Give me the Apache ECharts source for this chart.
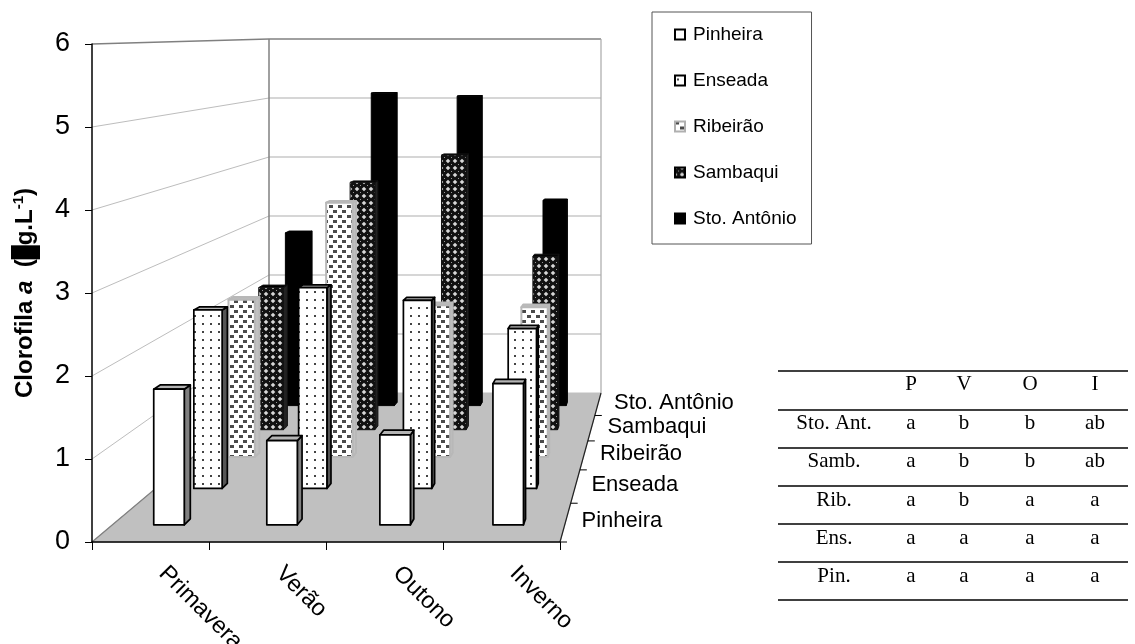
<!DOCTYPE html>
<html><head><meta charset="utf-8">
<style>html,body{margin:0;padding:0;background:#fff}#c{width:1135px;height:644px}</style>
<script src="https://cdn.jsdelivr.net/npm/echarts@6/dist/echarts.min.js"></script>
</head><body><div id="c"></div>
<script>
const categories = ['Primavera','Verão','Outono','Inverno'];
const siteNames = ['Pinheira','Enseada','Ribeirão','Sambaqui','Sto. Antônio'];
const yTicks = [0,1,2,3,4,5,6];
const pinheira = [1.69,1.05,1.12,1.76];
const enseada = [2.40,2.70,2.53,2.15];
const ribeirao = [2.27,3.67,2.19,2.16];
const sambaqui = [2.19,3.81,4.23,2.67];
const stoAntonio = [2.83,5.12,5.07,3.36];
const tableHead = ['', 'P','V','O','I'];
const tableRows = [
  ['Sto. Ant.','a','b','b','ab'],
  ['Samb.','a','b','b','ab'],
  ['Rib.','a','b','a','a'],
  ['Ens.','a','a','a','a'],
  ['Pin.','a','a','a','a']
];
const siteValues = [pinheira,enseada,ribeirao,sambaqui,stoAntonio];

function tile(w,h,bg,draw){
  const c=document.createElement('canvas');c.width=w;c.height=h;
  const g=c.getContext('2d');g.fillStyle=bg;g.fillRect(0,0,w,h);draw(g);
  return {image:c,repeat:'repeat'};
}
const patEnseada=tile(8,8,'#fff',g=>{g.fillStyle='#444';g.fillRect(2,3,2,2);});
const patRibeirao=tile(9,10,'#fff',g=>{g.fillStyle='#4a4a4a';g.fillRect(0,0,4,3);g.fillRect(5,5,4,3);});
const patSambaqui=tile(7,7,'#d8d8d8',g=>{g.fillStyle='#111';g.beginPath();g.moveTo(3.5,-1.2);g.lineTo(8.2,3.5);g.lineTo(3.5,8.2);g.lineTo(-1.2,3.5);g.closePath();g.fill();g.fillStyle='#999';g.fillRect(3,3,1,1);});
const looks=[
 {front:'#fff',side:'#808080',top:'#b4b4b4',stroke:'#000',lw:1.7,legendBorder:'#000'},
 {front:patEnseada,side:'#555',top:'#b4b4b4',stroke:'#000',lw:1.7,legendBorder:'#000'},
 {front:patRibeirao,side:'#c0c0c0',top:'#bcbcbc',stroke:'#b8b8b8',lw:2,legendBorder:'#b0b0b0'},
 {front:patSambaqui,side:'#222',top:'#000',stroke:'#111',lw:1,legendBorder:'#000'},
 {front:'#000',side:'#000',top:'#000',stroke:'#000',lw:1,legendBorder:'#000'}
];

// scene geometry: front plane comes from the axes, the back plane is this perspective of it
const FL=92,FR=560,FY=542,BL=269,BR=601,BY=393;
const UF=83,UB=59;
const K=UF/UB-1;
function depthT(d){return (1-1/(1+K*d))/(1-1/(1+K));}
function proj(x,y,d){
  const t=depthT(d);
  const bx=BL+(x-FL)*(BR-BL)/(FR-FL);
  const by=BY-(FY-y)*UB/UF;
  return [x+(bx-x)*t,y+(by-y)*t];
}
const ROW0=0.085,ROWSTEP=0.2,BARD=0.03,BARW=0.135;

function barRenderer(s){
  const L=looks[s];
  return function(params,api){
    const i=api.value(0),v=api.value(1);
    const c0=api.coord([i,0]),c1=api.coord([i,v]);
    const hw=api.size([1,0])[0]*BARW;
    const x0=c0[0]-hw,x1=c0[0]+hw,yb=c0[1],yt=c1[1];
    const d0=ROW0+ROWSTEP*s,d1=d0+BARD;
    const face=(pts,fill)=>({type:'polygon',shape:{points:pts},style:{fill:fill,stroke:L.stroke,lineWidth:L.lw,lineJoin:'round'}});
    return {type:'group',children:[
      face([proj(x1,yb,d0),proj(x1,yb,d1),proj(x1,yt,d1),proj(x1,yt,d0)],L.side),
      face([proj(x0,yt,d0),proj(x1,yt,d0),proj(x1,yt,d1),proj(x0,yt,d1)],L.top),
      face([proj(x0,yb,d0),proj(x1,yb,d0),proj(x1,yt,d0),proj(x0,yt,d0)],L.front)
    ]};
  };
}
function wallRenderer(params,api){
  const v=api.value(0);
  const y=api.coord([0,v])[1];
  const a=proj(FL,y,0),b=proj(FL,y,1),c=proj(FR,y,1);
  const isTop=v===yTicks[yTicks.length-1];
  const col=isTop?'#808080':'#c8c8c8';
  const kids=[];
  if(v===0){
    kids.push({type:'polygon',shape:{points:[a,proj(FR,y,0),c,b]},style:{fill:'#c0c0c0',stroke:'#c0c0c0',lineWidth:1}});
    kids.push({type:'line',shape:{x1:a[0],y1:a[1],x2:b[0],y2:b[1]},style:{stroke:'#808080',lineWidth:1.2}});
  } else {
    kids.push({type:'line',shape:{x1:a[0],y1:a[1],x2:b[0],y2:b[1]},style:{stroke:isTop?'#808080':'#bdbdbd',lineWidth:isTop?1.5:1}});
    kids.push({type:'line',shape:{x1:b[0],y1:b[1],x2:c[0],y2:c[1]},style:{stroke:col,lineWidth:isTop?1.5:1.3}});
  }
  if(isTop){
    const bot=api.coord([0,0])[1];
    const p=proj(FL,bot,1),q=proj(FR,bot,1);
    kids.push({type:'line',shape:{x1:b[0],y1:b[1],x2:p[0],y2:p[1]},style:{stroke:'#808080',lineWidth:1.5}});
    kids.push({type:'line',shape:{x1:c[0],y1:c[1],x2:q[0],y2:q[1]},style:{stroke:'#a8a8a8',lineWidth:1.2}});
  }
  return {type:'group',children:kids};
}
function depthAxisRenderer(params,api){
  const s=api.value(0);
  const y=api.coord([0,0])[1];
  const kids=[];
  const tick=proj(FR,y,ROWSTEP*s);
  kids.push({type:'line',shape:{x1:tick[0],y1:tick[1],x2:tick[0]+7,y2:tick[1]},style:{stroke:'#000',lineWidth:1}});
  if(s===0){
    const e=proj(FR,y,1);
    kids.push({type:'line',shape:{x1:tick[0],y1:tick[1],x2:e[0],y2:e[1]},style:{stroke:'#222',lineWidth:1.2}});
  }
  const lab=proj(FR,y,ROWSTEP*s+ROWSTEP/2);
  kids.push({type:'text',x:lab[0]+16,y:lab[1]-1,style:{text:siteNames[s],font:'22px "Liberation Sans"',fill:'#000',textAlign:'left',textVerticalAlign:'middle'}});
  return {type:'group',children:kids};
}

const series=[
 {type:'custom',name:'__walls',silent:true,z:1,coordinateSystem:'cartesian2d',renderItem:wallRenderer,data:yTicks.map(v=>[v]),encode:{y:0}},
 {type:'custom',name:'__depth',silent:true,z:1,coordinateSystem:'cartesian2d',renderItem:depthAxisRenderer,data:siteNames.map((n,i)=>[i])}
];
for(let s=4;s>=0;s--){
  series.push({type:'custom',name:siteNames[s],silent:true,z:2+(4-s),coordinateSystem:'cartesian2d',
    renderItem:barRenderer(s),
    itemStyle:{color:looks[s].front,borderColor:looks[s].legendBorder,borderWidth:1},
    encode:{x:0,y:1},
    data:siteValues[s].map((v,i)=>[i,v])});
}

// table as real text
const ruleY=[371,410,448,486,524,562,600];
const colX=[834,911,964,1030,1095];
const rowY=[384,423,461,500,538,576];
const gfx=[];
ruleY.forEach(y=>gfx.push({type:'line',shape:{x1:778,y1:y,x2:1128,y2:y},style:{stroke:'#000',lineWidth:1.6},silent:true}));
[tableHead].concat(tableRows).forEach((row,r)=>row.forEach((t,c)=>{
  if(t)gfx.push({type:'text',x:colX[c],y:rowY[r],silent:true,style:{text:t,font:'21px "Liberation Serif"',fill:'#000',textAlign:'center',textVerticalAlign:'middle'}});
}));

const chart=echarts.init(document.getElementById('c'),null,{renderer:'canvas'});
chart.setOption({
  animation:false,
  backgroundColor:'#fff',
  grid:{left:FL,top:44,width:FR-FL,height:FY-44,containLabel:false,outerBoundsMode:'none'},
  legend:{data:siteNames,orient:'vertical',left:652,top:12,selectedMode:false,icon:'rect',
    itemWidth:10,itemHeight:10,itemGap:27,padding:[13,15,16,22],
    borderColor:'#555',borderWidth:1,backgroundColor:'#fff',
    textStyle:{fontFamily:'Liberation Sans',fontSize:19,color:'#000',padding:[0,0,0,3]}},
  xAxis:{type:'category',data:categories,z:10,boundaryGap:true,
    axisLine:{show:true,onZero:false,lineStyle:{color:'#000',width:1.5}},
    axisTick:{show:true,length:8,alignWithLabel:false,lineStyle:{color:'#000'}},
    axisLabel:{interval:0,rotate:-45,margin:16,padding:[0,0,0,17],fontFamily:'Liberation Sans',fontSize:23.5,color:'#000'},
    splitLine:{show:false}},
  yAxis:{type:'value',min:0,max:6,interval:1,z:10,
    name:'{b|Clorofila }{i|a}{b|  (}{box|}{b|g.L}{sup|-1}{b|)}',nameLocation:'middle',nameRotate:90,nameGap:52,
    nameTextStyle:{rich:{
      b:{fontFamily:'Liberation Sans',fontWeight:'bold',fontSize:24,color:'#000'},
      i:{fontFamily:'Liberation Sans',fontWeight:'bold',fontStyle:'italic',fontSize:24,color:'#000'},
      box:{backgroundColor:'#000',width:14,height:29},
      sup:{fontFamily:'Liberation Sans',fontWeight:'bold',fontSize:15,color:'#000',verticalAlign:'top'}
    }},
    axisLine:{show:true,lineStyle:{color:'#000',width:1.5}},
    axisTick:{show:true,length:7,lineStyle:{color:'#000'}},
    axisLabel:{margin:22,padding:[4,0,0,0],fontFamily:'Liberation Sans',fontSize:27,color:'#000'},
    splitLine:{show:false}},
  graphic:{elements:gfx},
  series:series
});
</script></body></html>
